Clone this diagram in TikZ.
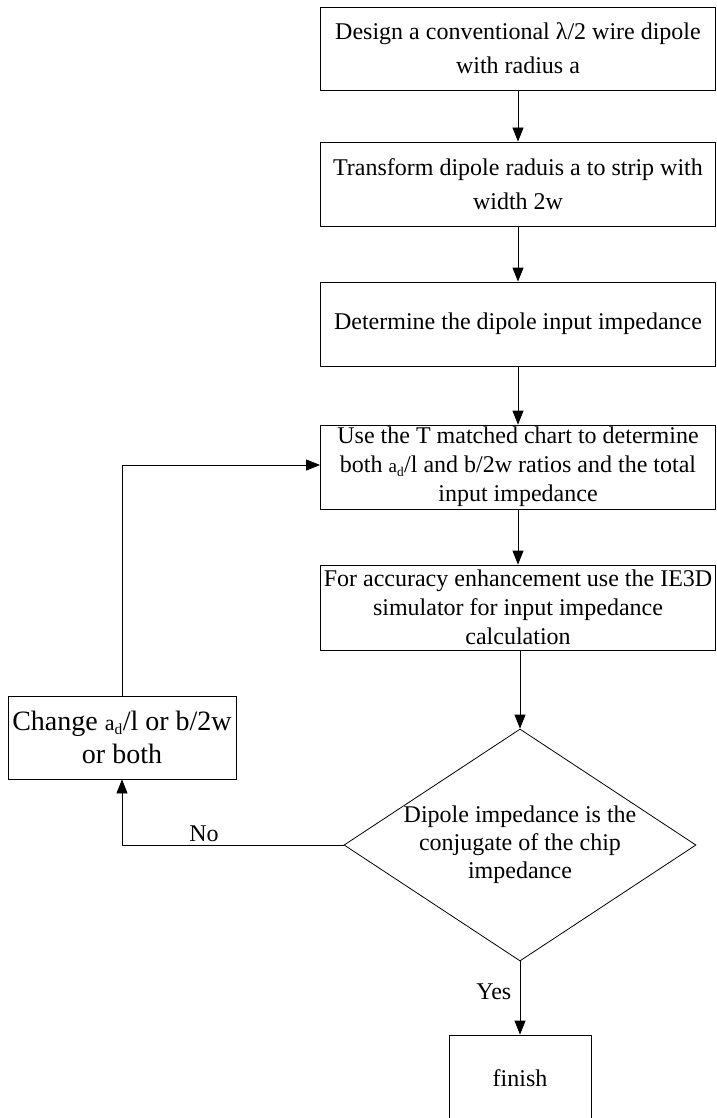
\documentclass[tikz,border=0pt]{standalone}
\usepackage{fontspec}
\setmainfont{Liberation Serif}
\usetikzlibrary{arrows.meta,shapes.geometric}
\newcommand\myad{{\fontsize{19}{20}\selectfont a\textsubscript{d}}}
\newcommand\myadbig{{\fontsize{22}{22}\selectfont a\textsubscript{d}}}
\begin{document}
\begin{tikzpicture}[x=1pt,y=-1pt,
  box/.style={draw, line width=0.8pt, minimum width=395pt, inner sep=0pt, align=center, font=\fontsize{24}{29}\selectfont},
  wide/.style={font=\fontsize{24}{34}\selectfont},
  lbl/.style={font=\fontsize{24}{29}\selectfont},
  arr/.style={-{Triangle[length=14pt,width=11pt]}, line width=0.8pt}]
\useasboundingbox (0,0) rectangle (716,1118);
\node[box, wide, minimum height=83pt] (b1) at (518,48.5) {Design a conventional λ/2 wire dipole\\with radius a};
\node[box, wide, minimum height=84pt] (b2) at (518,184) {Transform dipole raduis a to strip with\\width 2w};
\node[box, minimum height=84pt] (b3) at (518,324) {Determine the dipole input impedance};
\node[box, minimum height=84pt] (b4) at (518,467) {Use the T matched chart to determine\\both \myad/l and b/2w ratios and the total\\input impedance};
\node[box, minimum height=85pt] (b5) at (518,607.5) {For accuracy enhancement use the IE3D\\simulator for input impedance\\calculation};
\node[draw, diamond, line width=0.8pt, minimum width=352pt, minimum height=232pt, inner sep=0pt] (d) at (520,845) {};
\node[lbl, align=center, font=\fontsize{24}{28}\selectfont] (dt) at (d.center) {Dipole impedance is the\\conjugate of the chip\\impedance};
\node[box, font=\fontsize{28}{33}\selectfont, minimum width=228pt, minimum height=83pt] (c) at (122,737.5) {Change \myadbig/l or b/2w\\or both};
\node[box, minimum width=142pt, minimum height=86pt] (f) at (520,1078) {finish};
\draw[arr] (b1) -- (b2);
\draw[arr] (b2) -- (b3);
\draw[arr] (b3) -- (b4);
\draw[arr] (b4) -- (b5);
\draw[arr] (b5.south -| d.north) -- (d.north);
\draw[arr] (d.south) -- node[lbl, pos=0.42, left=5pt] {Yes} (f.north);
\draw[arr] (d.west) -- node[lbl, pos=0.63, above] {No} (d.west -| c.south) -- (c.south);
\draw[arr] (c.north) |- ([yshift=2pt]b4.west);
\end{tikzpicture}
\end{document}
